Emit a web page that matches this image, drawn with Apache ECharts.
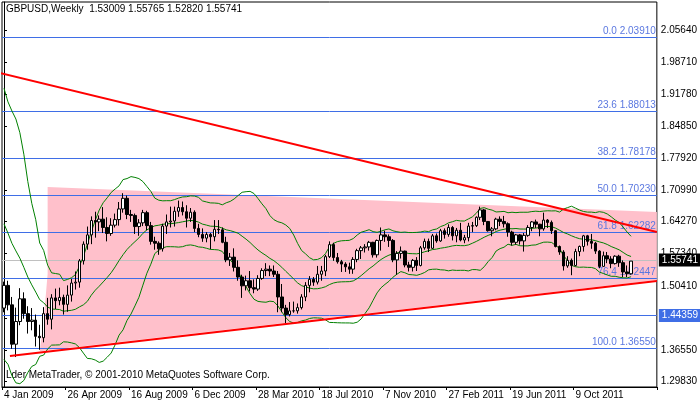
<!DOCTYPE html>
<html>
<head>
<meta charset="utf-8">
<script src="https://cdn.jsdelivr.net/npm/echarts@6/dist/echarts.min.js"></script>
<style>html,body{margin:0;padding:0;background:#fff}#main{width:700px;height:402px}</style>
</head>
<body>
<div id="main"></div>
<script>
// weekly closes before the first visible candle (for the bands)
var preCloses = [1.8640,1.8610,1.8200,1.7560,1.7900,1.8380,1.8450,1.7690,1.7070,1.7180,1.5790,1.6170,1.5610,1.4850,1.4900,1.5370,1.4630,1.4920,1.4670,1.4560];

var opens = [1.4560,1.5050,1.4630,1.3780,1.4270,1.4760,1.4440,1.4270,1.4300,1.3950,1.3920,1.4440,1.4320,1.4780,1.4720,1.4790,1.4640,1.4840,1.5100,1.5120,
1.5580,1.5940,1.6140,1.6450,1.6420,1.6480,1.6300,1.6170,1.6350,1.6470,1.6700,1.6930,1.6580,1.6560,1.6320,1.6400,1.6620,1.6340,1.6000,1.5960,
1.5840,1.6330,1.6420,1.6440,1.6650,1.6730,1.6640,1.6500,1.6630,1.6280,1.6150,1.6070,1.6150,1.6100,1.6260,1.6250,1.5980,1.5600,1.5660,1.5440,
1.5230,1.5040,1.5150,1.5000,1.4970,1.5200,1.5370,1.5400,1.5360,1.5290,1.4800,1.4560,1.4420,1.4500,1.4500,1.4570,1.4800,1.5050,1.5180,1.5120,
1.5290,1.5360,1.5670,1.5930,1.5650,1.5560,1.5510,1.5450,1.5400,1.5610,1.5800,1.5860,1.5880,1.5980,1.5710,1.6020,1.6140,1.6100,1.6020,1.5600,
1.5740,1.5790,1.5490,1.5440,1.5590,1.5480,1.5860,1.6000,1.5850,1.6120,1.6010,1.6230,1.6150,1.6300,1.6120,1.6240,1.6030,1.6080,1.6330,1.6340,
1.6520,1.6680,1.6430,1.6230,1.6270,1.6480,1.6430,1.6380,1.6200,1.5980,1.6140,1.6010,1.6130,1.6300,1.6420,1.6370,1.6270,1.6460,1.6410,1.6230,
1.5890,1.5770,1.5470,1.5590,1.5480,1.5780,1.5890,1.6120,1.6000,1.5960,1.5790,1.5460,1.5690,1.5620,1.5520,1.5680,1.5540,1.5340,1.53009];
var closes = [1.5050,1.4630,1.3780,1.4270,1.4760,1.4440,1.4270,1.4300,1.3950,1.3920,1.4440,1.4320,1.4780,1.4720,1.4790,1.4640,1.4840,1.5100,1.5120,1.5580,
1.5940,1.6140,1.6450,1.6420,1.6480,1.6300,1.6170,1.6350,1.6470,1.6700,1.6930,1.6580,1.6560,1.6320,1.6400,1.6620,1.6340,1.6000,1.5960,1.5840,
1.6330,1.6420,1.6440,1.6650,1.6730,1.6640,1.6500,1.6630,1.6280,1.6150,1.6070,1.6150,1.6100,1.6260,1.6250,1.5980,1.5600,1.5660,1.5440,1.5230,
1.5040,1.5150,1.5000,1.4970,1.5200,1.5370,1.5400,1.5360,1.5290,1.4800,1.4560,1.4420,1.4500,1.4500,1.4570,1.4800,1.5050,1.5180,1.5120,1.5290,
1.5360,1.5670,1.5930,1.5650,1.5560,1.5510,1.5450,1.5400,1.5610,1.5800,1.5860,1.5880,1.5980,1.5710,1.6020,1.6140,1.6100,1.6020,1.5600,1.5740,
1.5790,1.5490,1.5440,1.5590,1.5480,1.5860,1.6000,1.5850,1.6120,1.6010,1.6230,1.6150,1.6300,1.6120,1.6240,1.6030,1.6080,1.6330,1.6340,1.6520,
1.6680,1.6430,1.6230,1.6270,1.6480,1.6430,1.6380,1.6200,1.5980,1.6140,1.6010,1.6130,1.6300,1.6420,1.6370,1.6270,1.6460,1.6410,1.6230,1.5890,
1.5770,1.5470,1.5590,1.5480,1.5780,1.5890,1.6120,1.6000,1.5960,1.5790,1.5460,1.5690,1.5620,1.5520,1.5680,1.5540,1.5340,1.53009,1.55741];
var lows = [1.4470,1.4510,1.3680,1.3503,1.4190,1.4330,1.4010,1.4080,1.3730,1.3660,1.3820,1.4200,1.4100,1.4540,1.4620,1.4420,1.4480,1.4700,1.4960,1.5000,
1.5500,1.5820,1.5940,1.6080,1.6220,1.6180,1.6000,1.6120,1.6300,1.6340,1.6620,1.6480,1.6420,1.6160,1.6120,1.6330,1.6240,1.5930,1.5820,1.5710,
1.5780,1.6160,1.6300,1.6320,1.6530,1.6560,1.6300,1.6420,1.6200,1.6090,1.5990,1.5980,1.5830,1.6000,1.6160,1.5960,1.5550,1.5470,1.5350,1.5150,
1.4780,1.4940,1.4920,1.4880,1.4930,1.5170,1.5250,1.5250,1.5230,1.4470,1.4470,1.4230,1.4380,1.4460,1.4440,1.4530,1.4710,1.4900,1.5040,1.5070,
1.5150,1.5250,1.5640,1.5580,1.5520,1.5340,1.5340,1.5300,1.5300,1.5550,1.5620,1.5760,1.5800,1.5650,1.5650,1.5800,1.5990,1.5880,1.5550,1.5280,
1.5630,1.5440,1.5350,1.5350,1.5360,1.5460,1.5820,1.5770,1.5840,1.5970,1.5990,1.6060,1.6100,1.6020,1.5980,1.6000,1.5960,1.6000,1.6200,1.6310,
1.6460,1.6350,1.6210,1.6110,1.6240,1.6330,1.6300,1.6100,1.5910,1.5930,1.5930,1.5780,1.6100,1.6220,1.6290,1.6110,1.6230,1.6290,1.6160,1.5870,
1.5710,1.5370,1.5430,1.5270,1.5460,1.5680,1.5780,1.5910,1.5840,1.5730,1.5420,1.5450,1.5530,1.5420,1.5500,1.5450,1.5230,1.5230,1.52820];
var highs = [1.5130,1.5150,1.4800,1.4570,1.4990,1.4900,1.4600,1.4560,1.4420,1.4200,1.4580,1.4780,1.4860,1.4980,1.5000,1.4850,1.5050,1.5190,1.5350,1.5620,
1.6000,1.6320,1.6540,1.6640,1.6560,1.6740,1.6520,1.6500,1.6600,1.6850,1.7040,1.6990,1.6680,1.6600,1.6480,1.6680,1.6660,1.6420,1.6100,1.6000,
1.6380,1.6580,1.6750,1.6750,1.6880,1.6860,1.6780,1.6720,1.6670,1.6380,1.6280,1.6200,1.6180,1.6460,1.6460,1.6300,1.6100,1.5750,1.5850,1.5590,
1.5280,1.5260,1.5360,1.5180,1.5270,1.5420,1.5530,1.5480,1.5480,1.5360,1.5080,1.4630,1.4690,1.4700,1.4660,1.4860,1.5120,1.5250,1.5230,1.5470,
1.5470,1.5710,1.6000,1.5970,1.5750,1.5600,1.5550,1.5540,1.5660,1.5840,1.5900,1.5940,1.6010,1.5990,1.6040,1.6300,1.6230,1.6150,1.6050,1.5790,
1.5890,1.5800,1.5560,1.5620,1.5660,1.5900,1.6060,1.6060,1.6160,1.6170,1.6270,1.6280,1.6370,1.6330,1.6290,1.6400,1.6140,1.6400,1.6420,1.6540,
1.6750,1.6700,1.6440,1.6310,1.6510,1.6540,1.6550,1.6410,1.6230,1.6160,1.6160,1.6180,1.6350,1.6440,1.6470,1.6380,1.6620,1.6480,1.6450,1.6240,
1.5910,1.5810,1.5680,1.5630,1.5840,1.5910,1.6140,1.6140,1.6160,1.5990,1.5810,1.5780,1.5770,1.5680,1.5700,1.5710,1.5590,1.5480,1.55765];

var yTicks = [1.29830,1.36550,1.43480,1.50410,1.57340,1.64270,1.70990,1.77920,1.84850,1.91780,1.98710,2.05640];
var fibLevels = [['0.0',2.03910],['23.6',1.88013],['38.2',1.78178],['50.0',1.70230],['61.8',1.62282],['76.4',1.52447],['100.0',1.36550]];
var hLine = 1.44359;
var bid = 1.55741;
// trend lines [week index, price]
var upperTrend = [[-1,1.9636],[164.5,1.6203]];
var lowerTrend = [[1.5,1.3525],[164.5,1.5145]];
var pinkPoly = [[11,1.7174],[164.5,1.6635],[164.5,1.5165],[9,1.3630],[10,1.4300],[11,1.5300]];

var months = ['Jan','Feb','Mar','Apr','May','Jun','Jul','Aug','Sep','Oct','Nov','Dec'];
var dates = [];
for (var i = 0; i < 165; i++) {
  var d = new Date(Date.UTC(2009,0,4) + i*7*86400000);
  dates.push(d.getUTCDate() + ' ' + months[d.getUTCMonth()] + ' ' + d.getUTCFullYear());
}

var candles = closes.map(function(c,i){ return [opens[i], c, lows[i], highs[i]]; });

// Bollinger bands 20, 2
var all = preCloses.concat(closes);
var bbUp = [], bbMid = [], bbLow = [];
for (var i = 0; i < closes.length; i++) {
  var w = all.slice(preCloses.length + i - 19, preCloses.length + i + 1);
  var m = w.reduce(function(a,b){return a+b;},0) / w.length;
  var s = Math.sqrt(w.reduce(function(a,b){return a+(b-m)*(b-m);},0) / w.length);
  bbMid.push([i,m]); bbUp.push([i,m+2*s]); bbLow.push([i,m-2*s]);
}

var chart = echarts.init(document.getElementById('main'));
var font = 'Liberation Sans';
var fibLines = fibLevels.map(function(f){
  return {yAxis: f[1], label: {formatter: f[0] + ' ' + f[1].toFixed(5)}};
});
fibLines.push({yAxis: hLine, label: {position: 'end', formatter: hLine.toFixed(5), color: '#fff',
  backgroundColor: '#3f6ee6', padding: [2,3,1,3], distance: 2}});
fibLines.push({yAxis: bid, lineStyle: {color: '#c0c0c0'}, label: {position: 'end', formatter: bid.toFixed(5),
  color: '#fff', backgroundColor: '#000', padding: [2,3,1,3], distance: 2}});

var bandStyle = {type:'line', xAxisIndex:1, symbol:'none', silent:true, z:3, lineStyle:{color:'#008000', width:1}};
var showLabel = function(i){ return i % 16 === 0 && i < 150; };

chart.setOption({
  animation: false,
  textStyle: {fontFamily: font},
  grid: {left: 2, right: 40, top: 2, bottom: 15, show: true, borderColor: '#000', borderWidth: 1},
  xAxis: [{
    type: 'category', data: dates, boundaryGap: true,
    axisLine: {lineStyle: {color: '#000'}},
    axisTick: {show: true, length: 3, interval: showLabel, lineStyle: {color:'#000'}},
    axisLabel: {interval: showLabel, align: 'left', margin: 3, fontSize: 10, color: '#000', fontFamily: font},
    splitLine: {show: false}
  }, {
    type: 'value', min: -0.5, max: 164.5, show: false
  }],
  yAxis: {
    type: 'value', position: 'right', min: 1.2856, max: 2.1168, scale: true,
    axisLine: {show: true, lineStyle: {color: '#000'}},
    axisTick: {show: true, length: 3, inside: false, customValues: yTicks, lineStyle: {color:'#000'}},
    axisLabel: {customValues: yTicks, formatter: function(v){ return v.toFixed(5); }, fontSize: 10, color: '#000', margin: 4, fontFamily: font},
    splitLine: {show: false}
  },
  graphic: [
    {type: 'text', left: 6, top: 4, style: {text: 'GBPUSD,Weekly  1.53009 1.55765 1.52820 1.55741', fontSize: 10, fill: '#000', fontFamily: font}},
    {type: 'text', left: 6, top: 370, style: {text: 'Lder MetaTrader, © 2001-2010 MetaQuotes Software Corp.', fontSize: 10, fill: '#000', fontFamily: font}}
  ],
  series: [
    {
      type: 'custom', xAxisIndex: 1, silent: true, z: 1, data: [0],
      renderItem: function(params, api) {
        return {type: 'polygon', shape: {points: pinkPoly.map(function(p){ return api.coord(p); })},
          style: {fill: '#ffc0cb'}};
      }
    },
    {
      type: 'candlestick', data: candles, barWidth: 3, z: 4,
      itemStyle: {color: '#fff', color0: '#000', borderColor: '#000', borderColor0: '#000', borderWidth: 1},
      markLine: {
        silent: true, symbol: 'none', z: 2,
        lineStyle: {color: '#3f6ee6', type: 'solid', width: 1},
        label: {position: 'insideEndTop', color: '#5b78e0', fontSize: 10, fontFamily: font, distance: 1},
        data: fibLines
      }
    },
    Object.assign({data: bbUp}, bandStyle),
    Object.assign({data: bbMid}, bandStyle),
    Object.assign({data: bbLow}, bandStyle),
    {type:'line', xAxisIndex:1, data: upperTrend, symbol:'none', z:5, lineStyle:{color:'#ff0000', width:2}},
    {type:'line', xAxisIndex:1, data: lowerTrend, symbol:'none', z:5, lineStyle:{color:'#ff0000', width:2}}
  ]
});
</script>
</body>
</html>
